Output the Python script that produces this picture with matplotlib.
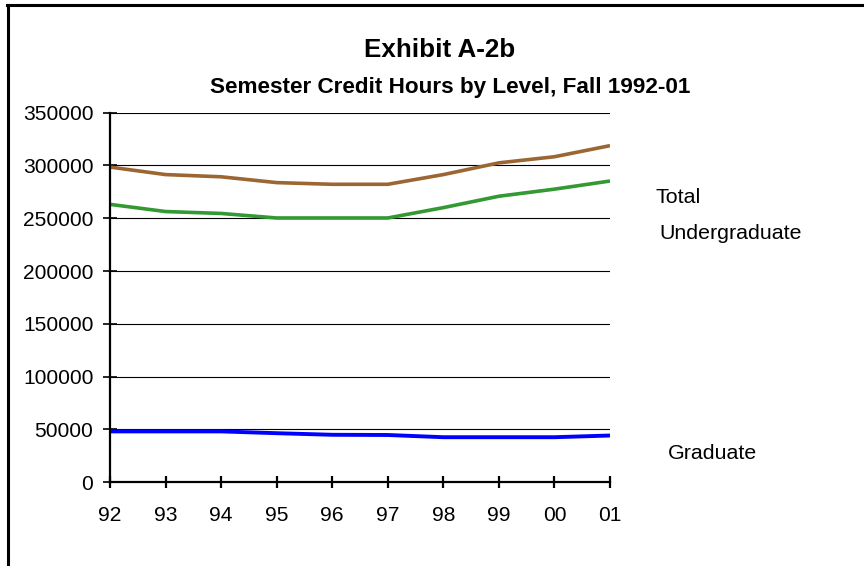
import matplotlib
matplotlib.use("Agg")
import matplotlib.pyplot as plt
from matplotlib.lines import Line2D

plt.rcParams['font.family'] = ['Liberation Sans', 'DejaVu Sans']

years = ['92', '93', '94', '95', '96', '97', '98', '99', '00', '01']
total = [298500, 291400, 289300, 283800, 282200, 282200, 291400, 302500, 308300, 318800]
undergraduate = [263200, 256400, 254600, 250300, 250300, 250300, 260100, 270900, 277600, 285300]
graduate = [48200, 48200, 48200, 46500, 45000, 44800, 42700, 42700, 42700, 44300]
yticks = [0, 50000, 100000, 150000, 200000, 250000, 300000, 350000]

W, H = 864, 566
fig = plt.figure(figsize=(W / 100, H / 100), dpi=100)

def fx(px):
    return px / W

def fy(py):
    return 1 - py / H

ax = fig.add_axes([fx(110), fy(482.3), fx(610) - fx(110), fy(112.7) - fy(482.3)])
x = list(range(len(years)))
ax.plot(x, total, color='#9C6633', lw=2.6, solid_capstyle='butt', zorder=3)
ax.plot(x, undergraduate, color='#339933', lw=2.6, solid_capstyle='butt', zorder=3)
ax.plot(x, graduate, color='#0000FF', lw=2.8, solid_capstyle='butt', zorder=3)

ax.set_xlim(0, len(years) - 1)
ax.set_ylim(0, 350000)
ax.set_yticks(yticks)
ax.set_yticklabels([str(v) for v in yticks])
ax.set_xticks(x)
ax.set_xticklabels(years)
ax.yaxis.grid(True, color='black', lw=0.8)
ax.set_axisbelow(True)
for s in ['top', 'right']:
    ax.spines[s].set_visible(False)
for s in ['left', 'bottom']:
    ax.spines[s].set_linewidth(1.6)
    ax.spines[s].set_zorder(4)
ax.tick_params(axis='y', direction='inout', length=9.5, width=1.2, labelsize=15.1, pad=7.3)
ax.tick_params(axis='x', direction='inout', length=9, width=1.6, labelsize=15.1, pad=12.5)
for lab in ax.get_xticklabels() + ax.get_yticklabels():
    lab.set_clip_on(False)
for ln in ax.xaxis.get_ticklines() + ax.yaxis.get_ticklines():
    ln.set_clip_on(False)

fig.text(fx(440), fy(57.3), 'Exhibit A-2b', ha='center', va='baseline', fontsize=18.7, fontweight='bold')
fig.text(fx(450.5), fy(93.3), 'Semester Credit Hours by Level, Fall 1992-01', ha='center', va='baseline',
         fontsize=16.2, fontweight='bold')

fig.text(fx(655), fy(203.3), 'Total', ha='left', va='baseline', fontsize=15.4)
fig.text(fx(659), fy(239.3), 'Undergraduate', ha='left', va='baseline', fontsize=15.4)
fig.text(fx(668), fy(459.3), 'Graduate', ha='left', va='baseline', fontsize=15.4)

fig.add_artist(Line2D([fx(8.3), fx(8.3)], [fy(5), fy(570)], color='black', lw=2.2, transform=fig.transFigure))
fig.add_artist(Line2D([fx(7.2), fx(870)], [fy(5), fy(5)], color='black', lw=2.2, transform=fig.transFigure))

fig.savefig('out.png', dpi=100)
